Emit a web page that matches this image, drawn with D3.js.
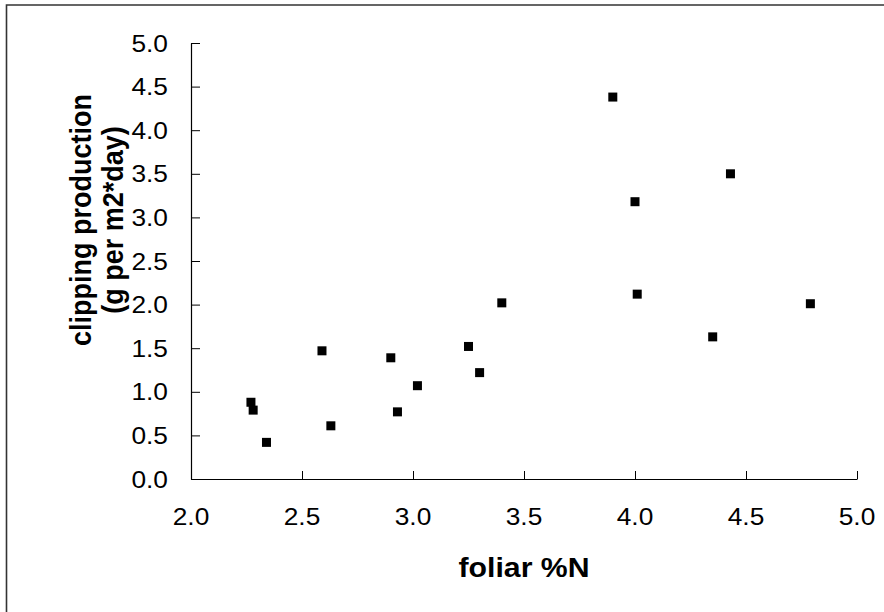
<!DOCTYPE html>
<html lang="en">
<head>
<meta charset="UTF-8">
<title>clipping production vs foliar N</title>
<script src="https://d3js.org/d3.v7.min.js"></script>
<style>
  body { margin: 0; background: #fff; }
  text { font-family: "Liberation Sans", Arial, sans-serif; fill: #000; }
</style>
</head>
<body>
<svg width="884" height="612"></svg>
<script>
// foliar %N (x) and clipping production (y)
const foliarN  = [2.27, 2.28, 2.34, 2.59, 2.63, 2.90, 2.93, 3.02, 3.25, 3.30, 3.40, 3.90, 4.00, 4.01, 4.35, 4.43, 4.79];
const clipping = [0.88, 0.79, 0.42, 1.47, 0.61, 1.39, 0.77, 1.07, 1.52, 1.22, 2.02, 4.38, 3.18, 2.12, 1.63, 3.50, 2.01];
const xTicks = [2.0, 2.5, 3.0, 3.5, 4.0, 4.5, 5.0];
const yTicks = [0.0, 0.5, 1.0, 1.5, 2.0, 2.5, 3.0, 3.5, 4.0, 4.5, 5.0];
const yTitle = ["clipping production", "(g per m2*day)"];

const svg = d3.select("svg");
const sx = 1.12; // text looks stretched sideways in the original

// frame (only left and top edges are visible)
svg.append("path")
  .attr("d", "M6.5,612 L6.5,5 L884,5")
  .attr("fill", "none")
  .attr("stroke", "#333")
  .attr("stroke-width", 1.6);

const x = d3.scaleLinear().domain([2, 5]).range([191, 857]);
const y = d3.scaleLinear().domain([0, 5]).range([479, 43]);

// axes with ticks pointing inward
const xAxis = d3.axisTop(x).tickValues(xTicks).tickSize(8).tickSizeOuter(0).tickFormat("");
const yAxis = d3.axisRight(y).tickValues(yTicks).tickSize(9).tickSizeOuter(0).tickFormat("");

svg.append("g").attr("transform", "translate(0,479)").call(xAxis);
svg.append("g").attr("transform", "translate(191,0)").call(yAxis);
svg.selectAll(".domain").attr("stroke", "#000").attr("stroke-width", 1.2);
svg.selectAll(".tick line").attr("stroke", "#000").attr("stroke-width", 1);

// tick labels
svg.selectAll(".xlab")
  .data(xTicks)
  .enter()
  .append("text")
  .attr("class", "xlab")
  .attr("transform", d => `translate(${x(d)},525) scale(${sx},1)`)
  .attr("text-anchor", "middle")
  .style("font-size", "23.5px")
  .text(d => d.toFixed(1));

svg.selectAll(".ylab")
  .data(yTicks)
  .enter()
  .append("text")
  .attr("class", "ylab")
  .attr("transform", d => `translate(168,${y(d) + 8.5}) scale(${sx},1)`)
  .attr("text-anchor", "end")
  .style("font-size", "23.5px")
  .text(d => d.toFixed(1));

// points
const pts = foliarN.map((v, i) => ({ x: v, y: clipping[i] }));
svg.selectAll("rect.pt")
  .data(pts)
  .enter()
  .append("rect")
  .attr("class", "pt")
  .attr("x", d => x(d.x) - 4.5)
  .attr("y", d => y(d.y) - 4.5)
  .attr("width", 9)
  .attr("height", 9)
  .attr("fill", "#000");

// axis titles
svg.append("text")
  .attr("transform", `translate(524,577) scale(${sx},1)`)
  .attr("text-anchor", "middle")
  .style("font-size", "27px")
  .style("font-weight", "bold")
  .text("foliar %N");

svg.selectAll(".ytitle")
  .data(yTitle)
  .enter()
  .append("text")
  .attr("class", "ytitle")
  .attr("transform", (d, i) => `translate(${91 + i * 32},220) scale(${sx},1) rotate(-90)`)
  .attr("text-anchor", "middle")
  .style("font-size", "27px")
  .style("font-weight", "bold")
  .text(d => d);
</script>
</body>
</html>
